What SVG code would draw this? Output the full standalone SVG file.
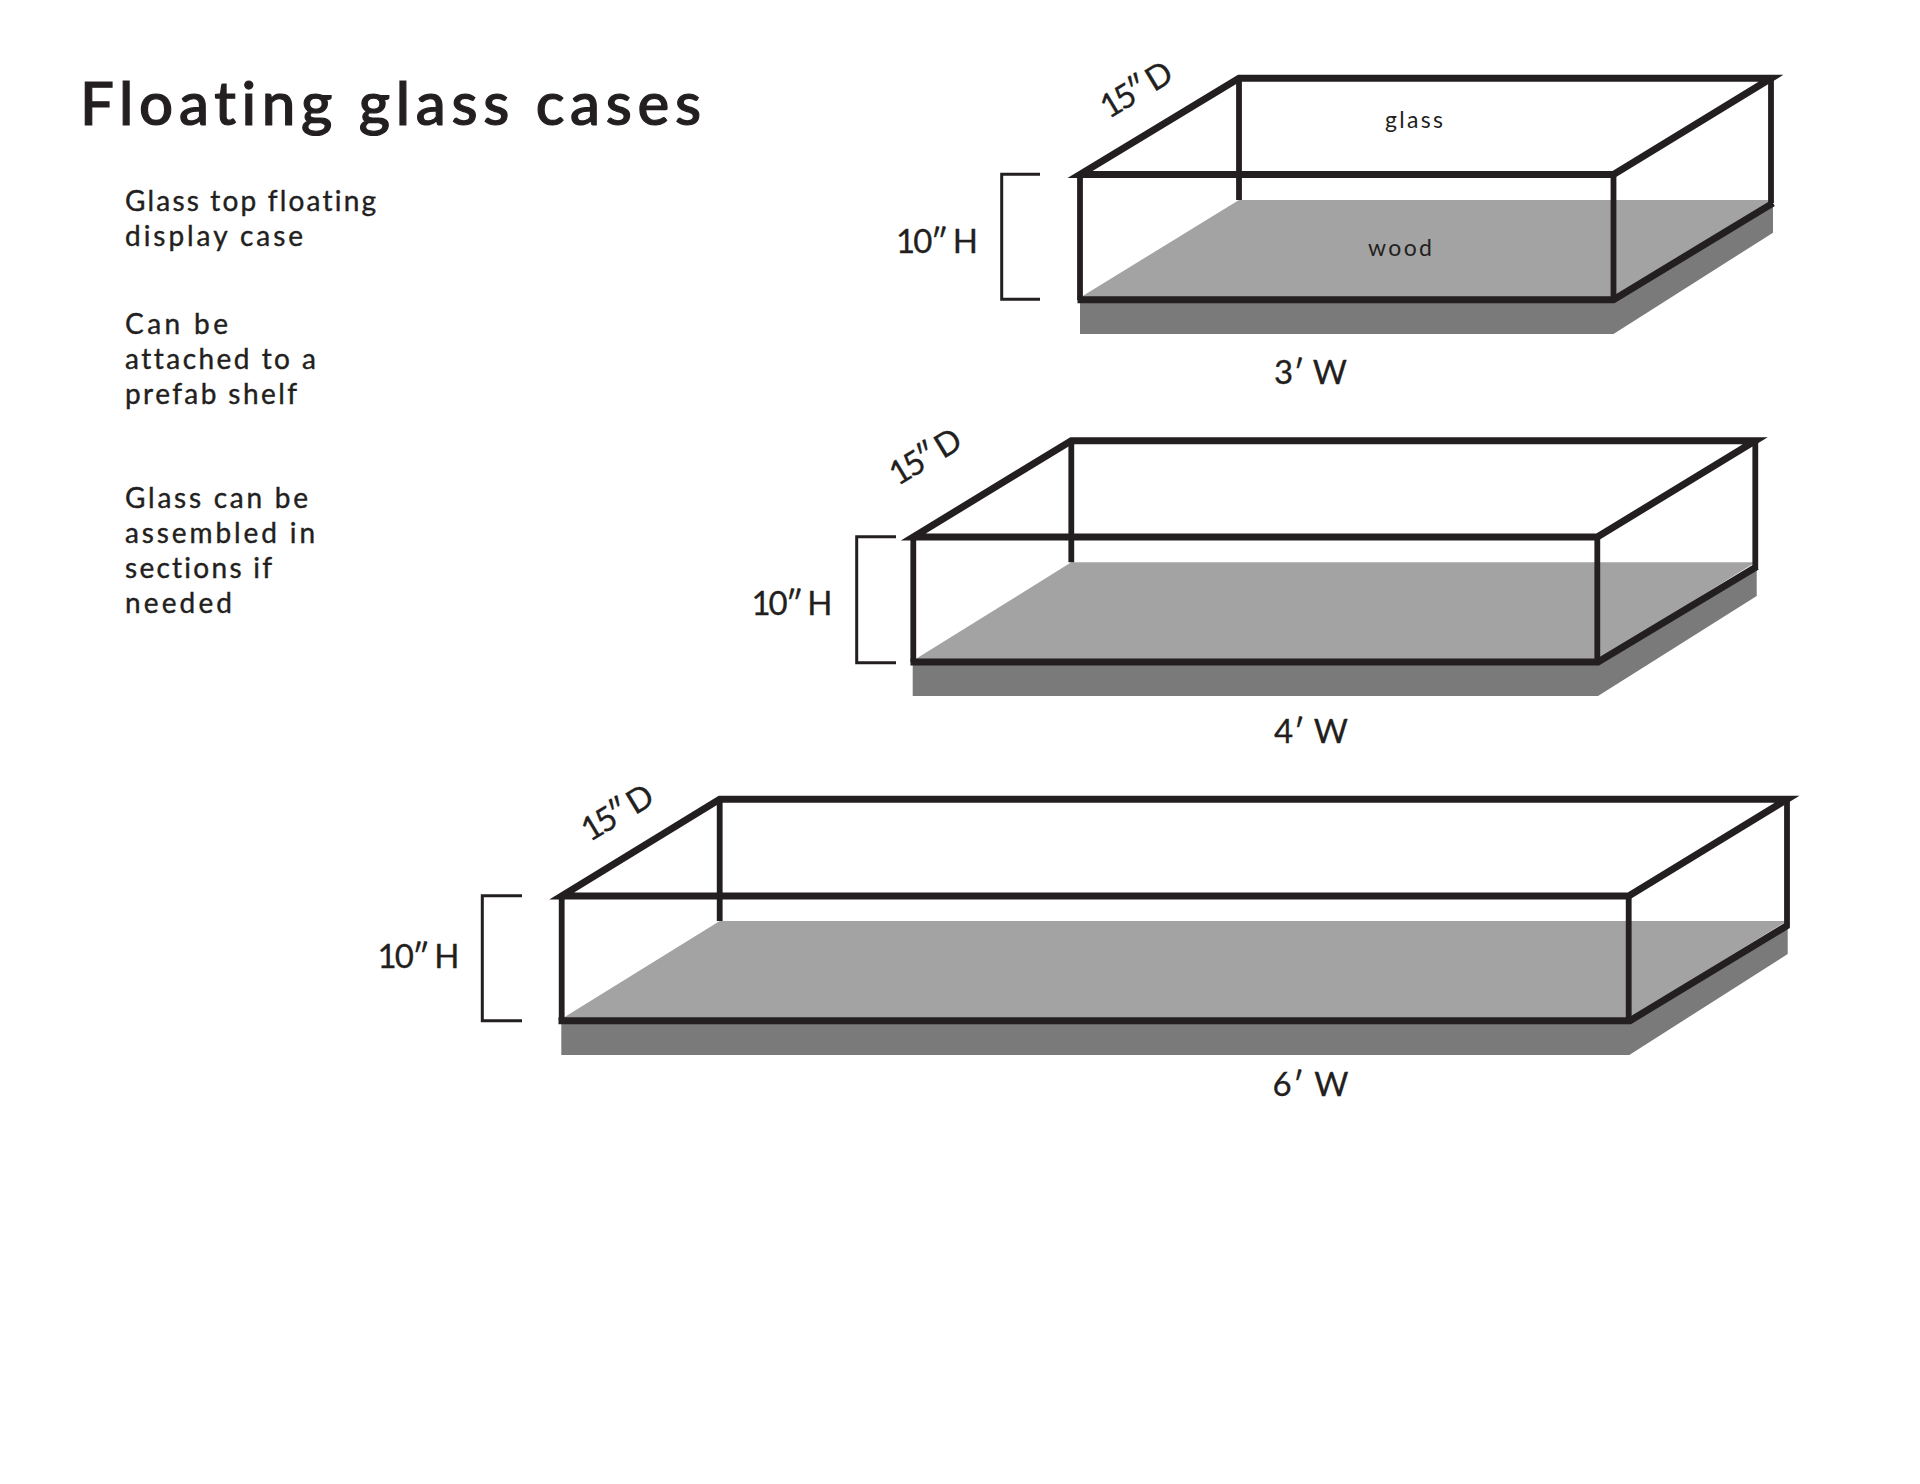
<svg xmlns="http://www.w3.org/2000/svg" width="1920" height="1484" viewBox="0 0 1920 1484">
<style>
text{font-family:"Lato","Noto Sans","Liberation Sans",sans-serif;fill:#231f20;font-variant-ligatures:none}
.title{font-size:60px;font-weight:500;stroke:#231f20;stroke-width:1.2}
.body{font-size:28px;stroke:#231f20;stroke-width:.4}
.dim{font-size:33px;stroke:#231f20;stroke-width:.3}
.small{font-size:23px}
.wood{fill:#a3a3a3}
.base{fill:#7a7a7a}
.line{fill:none;stroke:#231f20;stroke-linejoin:miter;stroke-miterlimit:12}
.thick{stroke-width:7}
.thin{stroke-width:5.8}
.br{fill:none;stroke:#231f20;stroke-width:3}
</style>
<rect width="1920" height="1484" fill="#fff"/>
<g id="notes">
<text class="title" x="80" y="125" textLength="621">Floating glass cases</text>
<text class="body" x="125" y="211" textLength="251">Glass top floating</text>
<text class="body" x="125" y="246" textLength="178">display case</text>
<text class="body" x="125" y="334" textLength="103">Can be</text>
<text class="body" x="125" y="369" textLength="191">attached to a</text>
<text class="body" x="125" y="404" textLength="172">prefab shelf</text>
<text class="body" x="125" y="508" textLength="183">Glass can be</text>
<text class="body" x="125" y="543" textLength="190">assembled in</text>
<text class="body" x="125" y="578" textLength="147">sections if</text>
<text class="body" x="125" y="613" textLength="107">needed</text>
</g>
<g id="case-3ft">
<polygon class="wood" points="1081,297 1239,200 1771,200 1613.5,297"/>
<polygon class="base" points="1080,300 1613.5,300 1773,203 1773,232.7 1613.5,334 1080,334"/>
<path class="line thin" d="M1239,78.5V200M1771,78.5V203M1613.5,175V300M1080,175V300"/>
<path class="line thick" d="M1080,174.5H1613.5L1771,78.3H1239Z"/>
<path class="line thick" d="M1077.5,299.7H1613.5L1773,203"/>
<path class="br" d="M1040,174.3H1001.7V299.3H1040"/>
<text class="dim" x="896" y="253" textLength="82">10″ H</text>
<text class="dim" x="1274" y="384" textLength="73">3′ W</text>
<text class="dim" transform="translate(1136,89) rotate(-31)" x="-39" y="12" textLength="78">15″ D</text>
<text class="small" x="1385" y="128" textLength="58">glass</text>
<text class="small" x="1368" y="256" textLength="64">wood</text>
</g>
<g id="case-4ft">
<polygon class="wood" points="914,660 1071.3,562.3 1755.5,562.3 1598,660"/>
<polygon class="base" points="912.7,663 1598,663 1756.7,566 1756.7,596 1598,696 912.7,696"/>
<path class="line thin" d="M1071.3,441V562.3M1755.3,441V568M1597.3,537V662M913.3,537V662"/>
<path class="line thick" d="M913.3,537H1597.3L1755.3,440.7H1071.3Z"/>
<path class="line thick" d="M910.5,662H1598L1757,566.5"/>
<path class="br" d="M896,536.7H856.7V662.7H896"/>
<text class="dim" x="751.5" y="615" textLength="81">10″ H</text>
<text class="dim" x="1274" y="743" textLength="74">4′ W</text>
<text class="dim" transform="translate(925,456) rotate(-31)" x="-39" y="12" textLength="78">15″ D</text>
</g>
<g id="case-6ft">
<polygon class="wood" points="563,1018 719.7,921 1787,921 1629.5,1018"/>
<polygon class="base" points="561.3,1021 1629.3,1021 1787.7,925 1787.7,954 1629.3,1055 561.3,1055"/>
<path class="line thin" d="M719.7,799.5V921M1787,799.5V927.7M1628.7,896V1020M561.7,896V1020"/>
<path class="line thick" d="M561.7,896H1628.7L1787,799.3H719.7Z"/>
<path class="line thick" d="M558.5,1020.7H1630L1788,925"/>
<path class="br" d="M522,895.7H482.3V1020.7H522"/>
<text class="dim" x="377.5" y="968" textLength="82">10″ H</text>
<text class="dim" x="1272.5" y="1096" textLength="76">6′ W</text>
<text class="dim" transform="translate(617,812) rotate(-31)" x="-39" y="12" textLength="78">15″ D</text>
</g>
</svg>
